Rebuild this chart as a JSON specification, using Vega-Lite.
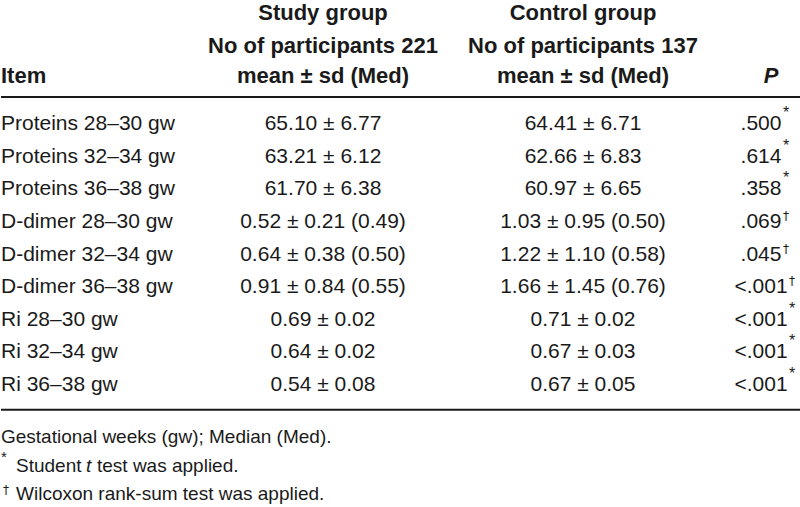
{
  "$schema": "https://vega.github.io/schema/vega-lite/v6.json",
  "width": 800,
  "height": 507,
  "autosize": {"type": "fit", "contains": "padding"},
  "padding": 0,
  "background": "white",
  "config": {
    "view": {"stroke": null},
    "text": {"font": "'Liberation Sans', Arial, sans-serif", "fontSize": 21, "color": "#1a1a1a", "baseline": "alphabetic"}
  },
  "data": {"name": "cells", "values": [
    {"part": "head", "line": 1, "col": 1, "text": "Study group"},
    {"part": "head", "line": 2, "col": 1, "text": "No of participants 221"},
    {"part": "head", "line": 3, "col": 1, "text": "mean ± sd (Med)"},
    {"part": "head", "line": 1, "col": 2, "text": "Control group"},
    {"part": "head", "line": 2, "col": 2, "text": "No of participants 137"},
    {"part": "head", "line": 3, "col": 2, "text": "mean ± sd (Med)"},
    {"part": "head", "line": 3, "col": 0, "text": "Item"},
    {"part": "head", "line": 3, "col": 3, "text": "P"},

    {"part": "body", "line": 4, "col": 0, "text": "Proteins 28–30 gw"},
    {"part": "body", "line": 4, "col": 1, "text": "65.10 ± 6.77"},
    {"part": "body", "line": 4, "col": 2, "text": "64.41 ± 6.71"},
    {"part": "body", "line": 4, "col": 3, "text": ".500", "note": "*"},
    {"part": "body", "line": 5, "col": 0, "text": "Proteins 32–34 gw"},
    {"part": "body", "line": 5, "col": 1, "text": "63.21 ± 6.12"},
    {"part": "body", "line": 5, "col": 2, "text": "62.66 ± 6.83"},
    {"part": "body", "line": 5, "col": 3, "text": ".614", "note": "*"},
    {"part": "body", "line": 6, "col": 0, "text": "Proteins 36–38 gw"},
    {"part": "body", "line": 6, "col": 1, "text": "61.70 ± 6.38"},
    {"part": "body", "line": 6, "col": 2, "text": "60.97 ± 6.65"},
    {"part": "body", "line": 6, "col": 3, "text": ".358", "note": "*"},
    {"part": "body", "line": 7, "col": 0, "text": "D-dimer 28–30 gw"},
    {"part": "body", "line": 7, "col": 1, "text": "0.52 ± 0.21 (0.49)"},
    {"part": "body", "line": 7, "col": 2, "text": "1.03 ± 0.95 (0.50)"},
    {"part": "body", "line": 7, "col": 3, "text": ".069", "note": "†"},
    {"part": "body", "line": 8, "col": 0, "text": "D-dimer 32–34 gw"},
    {"part": "body", "line": 8, "col": 1, "text": "0.64 ± 0.38 (0.50)"},
    {"part": "body", "line": 8, "col": 2, "text": "1.22 ± 1.10 (0.58)"},
    {"part": "body", "line": 8, "col": 3, "text": ".045", "note": "†"},
    {"part": "body", "line": 9, "col": 0, "text": "D-dimer 36–38 gw"},
    {"part": "body", "line": 9, "col": 1, "text": "0.91 ± 0.84 (0.55)"},
    {"part": "body", "line": 9, "col": 2, "text": "1.66 ± 1.45 (0.76)"},
    {"part": "body", "line": 9, "col": 3, "text": "<.001", "note": "†"},
    {"part": "body", "line": 10, "col": 0, "text": "Ri 28–30 gw"},
    {"part": "body", "line": 10, "col": 1, "text": "0.69 ± 0.02"},
    {"part": "body", "line": 10, "col": 2, "text": "0.71 ± 0.02"},
    {"part": "body", "line": 10, "col": 3, "text": "<.001", "note": "*"},
    {"part": "body", "line": 11, "col": 0, "text": "Ri 32–34 gw"},
    {"part": "body", "line": 11, "col": 1, "text": "0.64 ± 0.02"},
    {"part": "body", "line": 11, "col": 2, "text": "0.67 ± 0.03"},
    {"part": "body", "line": 11, "col": 3, "text": "<.001", "note": "*"},
    {"part": "body", "line": 12, "col": 0, "text": "Ri 36–38 gw"},
    {"part": "body", "line": 12, "col": 1, "text": "0.54 ± 0.08"},
    {"part": "body", "line": 12, "col": 2, "text": "0.67 ± 0.05"},
    {"part": "body", "line": 12, "col": 3, "text": "<.001", "note": "*"},

    {"part": "foot", "seg": "plain", "line": 13, "col": 0, "text": "Gestational weeks (gw); Median (Med)."},
    {"part": "foot", "seg": "mark", "line": 14, "col": 0, "text": "*"},
    {"part": "foot", "seg": "lead", "line": 14, "col": 0, "text": "Student"},
    {"part": "foot", "seg": "ital", "line": 14, "col": 0, "text": "t"},
    {"part": "foot", "seg": "rest", "line": 14, "col": 0, "text": "test was applied."},
    {"part": "foot", "seg": "mark", "line": 15, "col": 0, "text": "†"},
    {"part": "foot", "seg": "lead", "line": 15, "col": 0, "text": "Wilcoxon rank-sum test was applied."}
  ]},
  "encoding": {
    "x": {"field": "col", "type": "quantitative", "axis": null,
          "scale": {"domain": [0, 1, 2, 3, 4], "range": [0, 322, 582, 760, 800], "zero": false, "nice": false}},
    "y": {"field": "line", "type": "quantitative", "axis": null,
          "scale": {"domain": [1, 2, 3, 4, 12, 13, 14, 15], "range": [20, 53, 83, 130, 391, 443, 472, 500], "zero": false, "nice": false}}
  },
  "layer": [
    {"data": {"values": [{"col": 0, "col2": 4, "line": 3.3}, {"col": 0, "col2": 4, "line": 12.36}]},
     "mark": {"type": "rule", "stroke": "#1a1a1a", "strokeWidth": 2},
     "encoding": {
       "x2": {"field": "col2"}
     }},
    {"transform": [{"filter": "datum.part === 'head' && datum.col === 0"}],
     "mark": {"type": "text", "align": "left", "fontWeight": "bold", "fontSize": 22},
     "encoding": {"text": {"field": "text"}}},
    {"transform": [{"filter": "datum.part === 'head' && (datum.col === 1 || datum.col === 2)"}],
     "mark": {"type": "text", "align": "center", "fontWeight": "bold", "fontSize": 22},
     "encoding": {"text": {"field": "text"}}},
    {"transform": [{"filter": "datum.part === 'head' && datum.col === 3"}],
     "mark": {"type": "text", "align": "center", "fontWeight": "bold", "fontStyle": "italic", "fontSize": 22, "dx": 10},
     "encoding": {"text": {"field": "text"}}},
    {"transform": [{"filter": "datum.part === 'body' && datum.col === 0"}],
     "mark": {"type": "text", "align": "left"},
     "encoding": {"text": {"field": "text"}}},
    {"transform": [{"filter": "datum.part === 'body' && datum.col > 0"}],
     "mark": {"type": "text", "align": "center"},
     "encoding": {"text": {"field": "text"}}},
    {"transform": [{"filter": "datum.note === '*' && length(datum.text) < 5"}],
     "mark": {"type": "text", "align": "left", "fontSize": 16, "dx": 22, "dy": -12},
     "encoding": {"text": {"field": "note"}}},
    {"transform": [{"filter": "datum.note === '*' && length(datum.text) >= 5"}],
     "mark": {"type": "text", "align": "left", "fontSize": 16, "dx": 28, "dy": -12},
     "encoding": {"text": {"field": "note"}}},
    {"transform": [{"filter": "datum.note === '†' && length(datum.text) < 5"}],
     "mark": {"type": "text", "align": "left", "font": "'DejaVu Sans', sans-serif", "fontSize": 12, "dx": 22, "dy": -8},
     "encoding": {"text": {"field": "note"}}},
    {"transform": [{"filter": "datum.note === '†' && length(datum.text) >= 5"}],
     "mark": {"type": "text", "align": "left", "font": "'DejaVu Sans', sans-serif", "fontSize": 12, "dx": 28, "dy": -8},
     "encoding": {"text": {"field": "note"}}},
    {"transform": [{"filter": "datum.part === 'foot' && datum.seg === 'plain'"}],
     "mark": {"type": "text", "align": "left", "fontSize": 19},
     "encoding": {"text": {"field": "text"}}},
    {"transform": [{"filter": "datum.part === 'foot' && datum.seg === 'mark' && datum.line === 14"}],
     "mark": {"type": "text", "align": "left", "fontSize": 15, "dx": 0, "dy": -10},
     "encoding": {"text": {"field": "text"}}},
    {"transform": [{"filter": "datum.part === 'foot' && datum.seg === 'mark' && datum.line === 15"}],
     "mark": {"type": "text", "align": "left", "font": "'DejaVu Sans', sans-serif", "fontSize": 12, "dx": 2, "dy": -6},
     "encoding": {"text": {"field": "text"}}},
    {"transform": [{"filter": "datum.part === 'foot' && datum.seg === 'lead'"}],
     "mark": {"type": "text", "align": "left", "fontSize": 19, "dx": 15},
     "encoding": {"text": {"field": "text"}}},
    {"transform": [{"filter": "datum.part === 'foot' && datum.seg === 'ital'"}],
     "mark": {"type": "text", "align": "left", "fontSize": 19, "fontStyle": "italic", "dx": 85},
     "encoding": {"text": {"field": "text"}}},
    {"transform": [{"filter": "datum.part === 'foot' && datum.seg === 'rest'"}],
     "mark": {"type": "text", "align": "left", "fontSize": 19, "dx": 96},
     "encoding": {"text": {"field": "text"}}}
  ]
}
